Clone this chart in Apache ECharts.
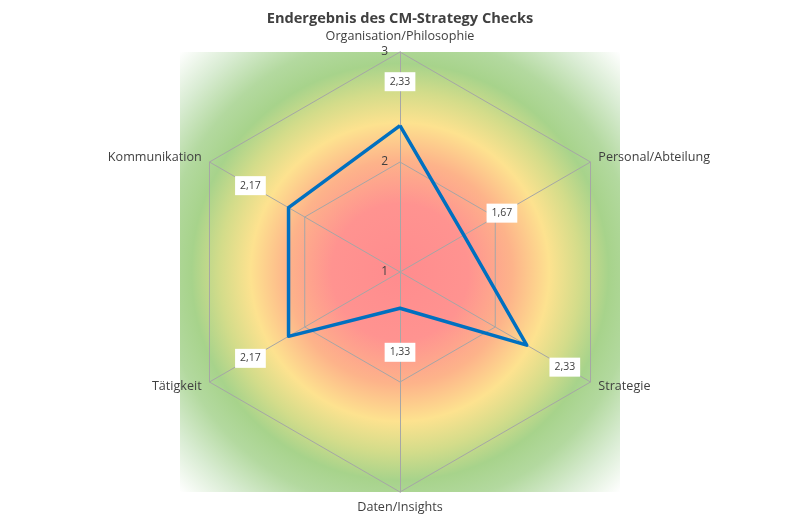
<!DOCTYPE html>
<html>
<head>
<meta charset="utf-8">
<script src="https://cdn.jsdelivr.net/npm/echarts@6/dist/echarts.min.js"></script>
<style>
html, body { margin: 0; padding: 0; background: #fff; }
#chart { width: 800px; height: 517px; }
</style>
</head>
<body>
<div id="chart"></div>
<script>
// ECharts radar goes counterclockwise from the top
var categories = ['Organisation/Philosophie', 'Kommunikation', 'Tätigkeit', 'Daten/Insights', 'Strategie', 'Personal/Abteilung'];
var values = [2.33, 2.17, 2.17, 1.33, 2.33, 1.67];
var axisMin = 1;
var axisMax = 3;

var chart = echarts.init(document.getElementById('chart'));
var cx = 400, cy = 272, R = 220;
var fontFam = '"Open Sans", "DejaVu Sans", sans-serif';

var indicators = [];
for (var i = 0; i < categories.length; i++) {
	var ind = { name: categories[i], min: axisMin, max: axisMax };
	if (i > 0) {
		ind.axisLabel = { show: false };
	}
	indicators.push(ind);
}

var option = {
	backgroundColor: '#fff',
	title: {
		text: 'Endergebnis des CM-Strategy Checks',
		left: 'center',
		top: 6,
		textStyle: { fontFamily: fontFam, fontSize: 14.6, fontWeight: 'bold', color: '#404040' }
	},
	graphic: [{
		type: 'rect',
		z: -10,
		silent: true,
		shape: { x: cx - R, y: cy - R, width: 2 * R, height: 2 * R },
		style: {
			fill: {
				type: 'radial', x: 0.5, y: 0.5, r: 0.707,
				colorStops: [
					{ offset: 0, color: '#ff8c8e' },
					{ offset: 0.22, color: '#ff9390' },
					{ offset: 0.36, color: '#fdb38a' },
					{ offset: 0.48, color: '#fde28f' },
					{ offset: 0.58, color: '#d3dc8a' },
					{ offset: 0.67, color: '#a7d38b' },
					{ offset: 0.76, color: '#b3d99f' },
					{ offset: 0.88, color: '#d9ecd3' },
					{ offset: 1, color: '#ffffff' }
				]
			}
		}
	}],
	radar: {
		center: [cx, cy],
		radius: R,
		startAngle: 90,
		splitNumber: 2,
		shape: 'polygon',
		nameGap: 9,
		axisName: { color: '#404040', fontSize: 12.6, fontFamily: fontFam },
		indicator: indicators,
		splitArea: { show: false },
		splitLine: { lineStyle: { color: '#a6a6a6', width: 1 } },
		axisLine: { lineStyle: { color: '#a6a6a6', width: 1 } },
		axisTick: { show: false },
		axisLabel: { show: true, color: '#404040', fontSize: 12, fontFamily: fontFam, margin: 12, padding: [4, 0, 0, 0] }
	},
	series: [{
		type: 'radar',
		symbol: 'circle',
		symbolSize: 1,
		lineStyle: { color: '#0070c0', width: 3.5 },
		itemStyle: { color: '#0070c0' },
		label: {
			show: true,
			color: '#404040',
			fontSize: 10.5,
			fontFamily: fontFam,
			backgroundColor: '#fff',
			padding: [4, 5],
			formatter: function (p) {
				var v = Array.isArray(p.value) ? p.value[p.dimensionIndex] : p.value;
				return v.toFixed(2).replace('.', ',');
			}
		},
		labelLayout: function (params) {
			var r = params.rect;
			var sx = r.x + r.width / 2, sy = r.y + r.height / 2;
			var dx = sx - cx, dy = sy - cy;
			var len = Math.sqrt(dx * dx + dy * dy) || 1;
			return {
				x: sx + dx / len * 44,
				y: sy + dy / len * 44,
				align: 'center',
				verticalAlign: 'middle'
			};
		},
		data: [{ value: values, name: 'Endergebnis' }]
	}]
};
chart.setOption(option);
</script>
</body>
</html>
